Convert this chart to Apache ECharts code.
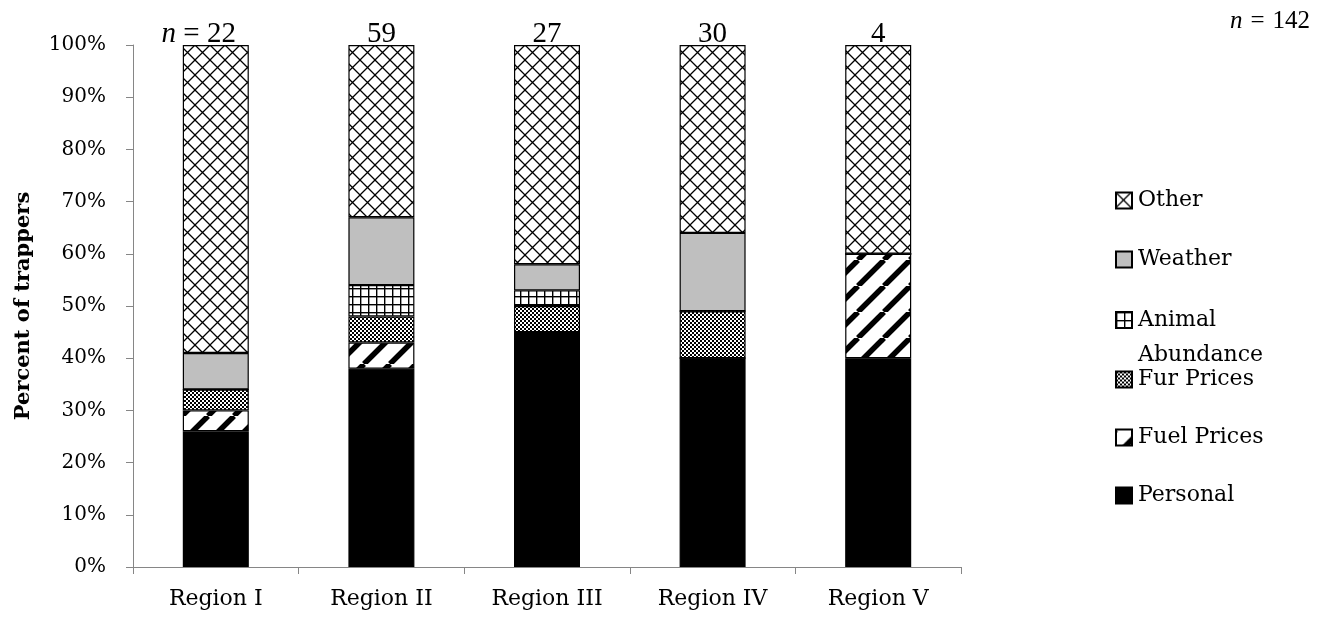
<!DOCTYPE html>
<html>
<head>
<meta charset="utf-8">
<title>Percent of trappers by region</title>
<script src="https://cdn.jsdelivr.net/npm/echarts@6/dist/echarts.min.js"></script>
<style>
  html, body { margin: 0; padding: 0; background: #ffffff; }
  #chart { width: 1333px; height: 617px; }
</style>
</head>
<body>
<div id="chart"></div>
<script>
// Regions and the share of trappers (percent) giving each reason
const categories = ['Region I', 'Region II', 'Region III', 'Region IV', 'Region V'];
const personal   = [26, 38, 45, 40, 40];
const fuelPrices = [4, 5, 0, 0, 20];
const furPrices  = [4, 5, 5, 9, 0];
const animalAbundance = [0, 6, 3, 0, 0];
const weather    = [7, 13, 5, 15, 0];
const other      = [59, 33, 42, 36, 40];
// Respondents per region, and overall
const regionCounts = [22, 59, 27, 30, 4];
const totalCount = 142;
const yTicks = { min: 0, max: 100, interval: 10 };

// ---- monochrome fill patterns ----
function makeTile(size, draw) {
  const c = document.createElement('canvas');
  c.width = size; c.height = size;
  const ctx = c.getContext('2d');
  ctx.fillStyle = '#ffffff';
  ctx.fillRect(0, 0, size, size);
  draw(ctx, size);
  return { image: c, repeat: 'repeat' };
}

// diagonal crosshatch (diamond lattice)
const otherFill = makeTile(15, (ctx, s) => {
  ctx.strokeStyle = '#000';
  ctx.lineWidth = 1.3;
  ctx.beginPath();
  ctx.moveTo(0, 0); ctx.lineTo(s, s);
  ctx.moveTo(s, 0); ctx.lineTo(0, s);
  ctx.stroke();
});

// square grid
const animalFill = makeTile(8, (ctx, s) => {
  ctx.fillStyle = '#000';
  ctx.fillRect(0, 0, s, 1.4);
  ctx.fillRect(0, 0, 1.4, s);
});

// fine checker
const furFill = makeTile(4, (ctx, s) => {
  ctx.fillStyle = '#000';
  ctx.fillRect(0, 0, 2, 2);
  ctx.fillRect(2, 2, 2, 2);
});

// wide upward diagonal stripes
const fuelFill = makeTile(26, (ctx, s) => {
  ctx.strokeStyle = '#000';
  ctx.lineWidth = 5.5;
  ctx.beginPath();
  for (let k = -1; k <= 2; k++) {
    ctx.moveTo(k * s, 0);
    ctx.lineTo(k * s - s, s);
  }
  ctx.stroke();
});

const serif = 'DejaVu Serif';
const serifNarrow = 'Liberation Serif';
const axisGray = '#868686';

function barSeries(name, data, fill) {
  return {
    name: name,
    type: 'bar',
    stack: 'total',
    data: data,
    barWidth: 66,
    itemStyle: { color: fill, borderColor: '#000', borderWidth: 1.2 },
    emphasis: { disabled: true }
  };
}

const series = [
  barSeries('Personal', personal, '#000000'),
  barSeries('Fuel Prices', fuelPrices, fuelFill),
  barSeries('Fur Prices', furPrices, furFill),
  barSeries('Animal Abundance', animalAbundance, animalFill),
  barSeries('Weather', weather, '#bfbfbf'),
  barSeries('Other', other, otherFill)
];

// respondent counts sit on top of each stack
series[5].label = {
  show: true,
  position: 'top',
  distance: -4,
  color: '#000',
  fontFamily: serifNarrow,
  fontSize: 29,
  formatter: p => (p.dataIndex === 0 ? '{it|n} = ' : '') + regionCounts[p.dataIndex],
  rich: { it: { fontStyle: 'italic', fontFamily: serifNarrow, fontSize: 29, color: '#000' } }
};
series[5].data = other.map((v, i) => i === 0 ? { value: v, label: { offset: [-17, 0] } } : v);

const legendText = { color: '#000', fontFamily: serif, fontSize: 22, lineHeight: 22, padding: [0, 0, 0, 1] };
const legendBase = {
  orient: 'vertical',
  left: 1115,
  padding: 0,
  itemWidth: 16,
  itemHeight: 16,
  selectedMode: false,
  icon: 'rect'
};

const totalStyle = { color: '#000', fontFamily: serifNarrow, fontSize: 25 };

const option = {
  animation: false,
  backgroundColor: '#ffffff',
  title: {
    text: '{it|n}{sp| }={sp| }' + totalCount,
    right: 18,
    top: 4,
    textStyle: Object.assign({}, totalStyle, {
      fontWeight: 'normal',
      rich: {
        it: Object.assign({ fontStyle: 'italic' }, totalStyle),
        sp: Object.assign({ width: 8 }, totalStyle)
      }
    })
  },
  grid: { left: 133, right: 372, top: 45, bottom: 50, containLabel: false },
  legend: [
    Object.assign({}, legendBase, { top: 189.5, itemGap: 37, data: ['Other', 'Weather'], textStyle: legendText }),
    Object.assign({}, legendBase, {
      top: 267.5,
      data: ['Animal Abundance'],
      formatter: () => '\u00a0\nAnimal\nAbundance',
      textStyle: { color: '#000', fontFamily: serif, fontSize: 22, lineHeight: 35, padding: [0, 0, 0, 1] }
    }),
    Object.assign({}, legendBase, { top: 368.5, itemGap: 36, data: ['Fur Prices', 'Fuel Prices', 'Personal'], textStyle: legendText })
  ],
  xAxis: {
    type: 'category',
    data: categories,
    axisLine: { lineStyle: { color: axisGray, width: 1 } },
    axisTick: { show: true, length: 7, lineStyle: { color: axisGray } },
    axisLabel: { color: '#000', fontFamily: serif, fontSize: 22, margin: 21 }
  },
  yAxis: {
    type: 'value',
    min: yTicks.min,
    max: yTicks.max,
    interval: yTicks.interval,
    name: 'Percent of trappers',
    nameLocation: 'middle',
    nameRotate: 90,
    nameGap: 99,
    nameTextStyle: { color: '#000', fontFamily: serif, fontSize: 21, fontWeight: 'bold' },
    axisLine: { show: true, lineStyle: { color: axisGray, width: 1 } },
    axisTick: { show: true, length: 7, lineStyle: { color: axisGray } },
    splitLine: { show: false },
    axisLabel: { color: '#000', fontFamily: serif, fontSize: 20, margin: 27, formatter: '{value}%' }
  },
  series: series
};

const chart = echarts.init(document.getElementById('chart'), null, { renderer: 'canvas' });
chart.setOption(option);
</script>
</body>
</html>
